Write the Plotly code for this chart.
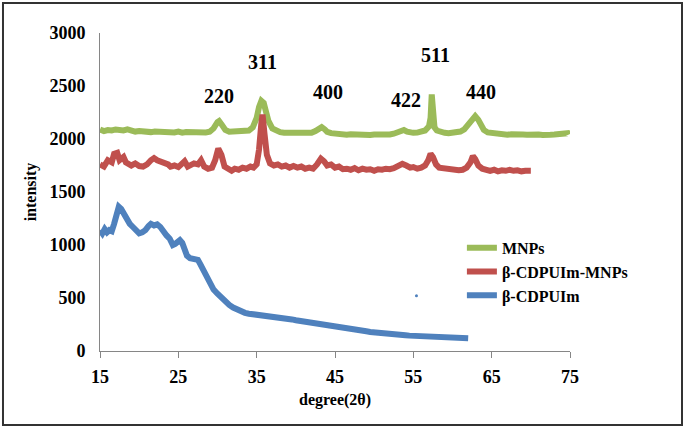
import plotly.graph_objects as go

# ---- data ----
mnp_x = [15, 15.5, 16, 16.5, 17, 17.5, 18, 18.5, 19, 19.5, 20, 20.5, 21, 21.5, 22, 22.5, 23, 23.5, 24, 24.5,
         25, 25.5, 26, 26.5, 27, 27.5, 28, 28.5, 29, 29.5, 30, 30.2, 30.5, 31, 31.5, 32, 32.5, 33, 33.5, 34,
         34.5, 35, 35.3, 35.6, 35.9, 36.2, 36.5, 37, 37.5, 38, 38.5, 39, 39.5, 40, 40.5, 41, 41.5, 42, 42.5, 43,
         43.3, 43.7, 44, 44.5, 45, 45.5, 46, 46.5, 47, 47.5, 48, 48.5, 49, 49.5, 50, 50.5, 51, 51.5, 52, 52.5,
         53, 53.5, 53.8, 54.2, 54.7, 55, 55.5, 56, 56.5, 57, 57.2, 57.35, 57.5, 57.7, 58, 58.5, 59, 59.5, 60, 60.5,
         61, 61.5, 62, 62.5, 62.9, 63.3, 63.7, 64, 64.5, 65, 65.5, 66, 66.5, 67, 67.5, 68, 68.5, 69, 69.5, 70,
         70.5, 71, 71.5, 72, 72.5, 73, 73.5, 74, 74.4, 74.7, 74.8]
mnp_y = [2090, 2075, 2085, 2080, 2090, 2085, 2080, 2090, 2078, 2070, 2075, 2068, 2072, 2065, 2070, 2068, 2062, 2070, 2065, 2062,
         2070, 2060, 2065, 2062, 2058, 2065, 2060, 2062, 2068, 2100, 2160, 2170, 2140, 2085, 2068, 2070, 2065, 2072, 2068, 2080,
         2110, 2200, 2300, 2360, 2340, 2260, 2170, 2100, 2075, 2065, 2060, 2058, 2055, 2060, 2052, 2055, 2050, 2058, 2075, 2105,
         2112, 2090, 2068, 2055, 2050, 2045, 2048, 2040, 2045, 2042, 2040, 2045, 2040, 2038, 2042, 2040, 2045, 2040, 2042, 2050,
         2062, 2080, 2085, 2070, 2055, 2058, 2060, 2068, 2080, 2120, 2200, 2420, 2200, 2110, 2080, 2065, 2058, 2055, 2058, 2060,
         2070, 2090, 2130, 2190, 2215, 2180, 2120, 2085, 2062, 2055, 2048, 2045, 2042, 2040, 2045, 2040, 2038, 2042, 2040, 2045,
         2040, 2042, 2038, 2045, 2040, 2042, 2048, 2045, 2060, 2055, 2040]

cd_mnp_x = [15, 15.5, 16, 16.5, 16.8, 17.2, 17.5, 18, 18.3, 18.7, 19, 19.5, 20, 20.5, 21, 21.5, 21.9, 22.3, 22.8, 23.2,
            23.7, 24, 24.5, 25, 25.5, 25.8, 26.2, 26.6, 27, 27.5, 27.9, 28.3, 28.8, 29.3, 29.7, 30.1, 30.5, 30.9, 31.3, 31.8,
            32.2, 32.7, 33.2, 33.7, 34.2, 34.6, 35, 35.3, 35.6, 35.75, 36, 36.3, 36.7, 37.2, 37.7, 38.2, 38.7, 39.2, 39.7, 40.2,
            40.7, 41.2, 41.7, 42.2, 42.7, 43.2, 43.6, 44, 44.5, 45, 45.5, 46, 46.5, 47, 47.5, 48, 48.5, 49, 49.5, 50,
            50.5, 51, 51.5, 52, 52.5, 53, 53.6, 54.1, 54.6, 55, 55.5, 56, 56.5, 56.9, 57.2, 57.5, 57.9, 58.3, 58.8, 59.3,
            59.8, 60.3, 60.8, 61.3, 61.8, 62.3, 62.6, 62.9, 63.3, 63.8, 64.3, 64.8, 65.3, 65.8, 66.3, 66.8, 67.3, 67.8, 68.3, 68.8,
            69.3, 69.7, 70]
cd_mnp_y = [1760, 1740, 1800, 1780, 1860, 1870, 1800, 1830, 1780, 1760, 1750, 1770, 1745, 1740, 1760, 1800, 1820, 1800, 1790, 1770,
            1760, 1740, 1750, 1735, 1760, 1790, 1740, 1750, 1770, 1760, 1800, 1740, 1720, 1730, 1800, 1910, 1850, 1740, 1720, 1700,
            1720, 1710, 1730, 1720, 1740, 1730, 1760, 1900, 2150, 2230, 2050, 1850, 1770, 1750, 1760, 1740, 1750, 1730, 1745, 1730,
            1740, 1720, 1730, 1720, 1760, 1815, 1790, 1750, 1760, 1730, 1740, 1715, 1720, 1710, 1725, 1705, 1720, 1710, 1715, 1700,
            1715, 1710, 1720, 1715, 1725, 1740, 1765, 1750, 1730, 1735, 1720, 1730, 1750, 1800, 1860, 1830, 1760, 1730, 1725, 1710,
            1715, 1700, 1705, 1710, 1730, 1780, 1840, 1810, 1750, 1720, 1710, 1700, 1710, 1695, 1705, 1700, 1710, 1700, 1705, 1695,
            1700, 1705, 1700]

cd_x = [15, 15.3, 15.6, 15.9, 16.2, 16.5, 16.8, 17.1, 17.4, 17.7, 18, 18.4, 18.8, 19.2, 19.6, 20, 20.4, 20.8, 21.2, 21.5,
        21.9, 22.3, 22.7, 23.1, 23.5, 23.9, 24.3, 24.6, 24.9, 25.2, 25.5, 25.8, 26.1, 26.5, 27, 27.5, 27.8, 28.2, 28.6, 29,
        29.5, 30, 30.5, 31, 31.5, 32, 32.5, 33, 33.5, 34, 34.5, 35, 35.5, 36, 36.5, 37, 37.5, 38, 38.5, 39,
        39.5, 40, 40.5, 41, 41.5, 42, 42.5, 43, 43.5, 44, 44.5, 45, 45.5, 46, 46.5, 47, 47.5, 48, 48.5, 49,
        49.5, 50, 50.5, 51, 51.5, 52, 52.5, 53, 53.5, 54, 54.5, 55, 55.5, 56, 56.5, 57, 57.5, 58, 58.5, 59,
        59.5, 60, 60.5, 61, 61.5, 62]
cd_y = [1140, 1110, 1150, 1120, 1140, 1130, 1200, 1300, 1360, 1340, 1300, 1250, 1200, 1170, 1130, 1110, 1120, 1140, 1180, 1200,
        1185, 1195, 1170, 1120, 1090, 1060, 1000, 1010, 1030, 1045, 1020, 960, 900, 875, 870, 860, 820, 760, 700, 640,
        580, 540, 500, 465, 435, 410, 390, 375, 360, 352, 348, 340, 332, 325, 320, 315, 318, 310, 305, 300,
        298, 290, 285, 280, 275, 265, 255, 250, 245, 240, 235, 230, 226, 222, 215, 210, 205, 200, 192, 186,
        180, 175, 170, 166, 162, 160, 158, 155, 152, 148, 145, 143, 140, 137, 135, 132, 130, 128, 126, 125,
        123, 122, 121, 120, 119, 120]

stray_x = [55.4]
stray_y = [522]

peak_labels = ["220", "311", "400", "422", "511", "440"]
peak_label_x = [30.2, 35.8, 44.1, 54.1, 57.8, 63.7]
peak_label_y = [2405, 2728, 2440, 2372, 2795, 2445]

x_ticks = [15, 25, 35, 45, 55, 65, 75]
y_ticks = [0, 500, 1000, 1500, 2000, 2500, 3000]

GREEN = "#9BBB59"
RED = "#C0504D"
BLUE = "#4F81BD"
FONT = "Liberation Serif"

fig = go.Figure()
fig.add_trace(go.Scatter(x=mnp_x, y=mnp_y, mode="lines", name="MNPs",
                         line=dict(color=GREEN, width=6)))
fig.add_trace(go.Scatter(x=cd_mnp_x, y=cd_mnp_y, mode="lines", name="β-CDPUIm-MNPs",
                         line=dict(color=RED, width=6)))
fig.add_trace(go.Scatter(x=cd_x, y=cd_y, mode="lines", name="β-CDPUIm",
                         line=dict(color=BLUE, width=6)))
fig.add_trace(go.Scatter(x=stray_x, y=stray_y, mode="markers", showlegend=False,
                         marker=dict(color=BLUE, size=3)))

for t, x, y in zip(peak_labels, peak_label_x, peak_label_y):
    fig.add_annotation(x=x, y=y, text=t, showarrow=False,
                       font=dict(family=FONT, size=20, color="black", weight="bold"))

# outer frame
fig.add_shape(type="rect", xref="paper", yref="paper",
              x0=-0.2064, x1=1.2383, y0=-0.2327, y1=1.0943,
              line=dict(color="#333333", width=2), fillcolor="rgba(0,0,0,0)")

fig.update_layout(
    width=685, height=428,
    margin=dict(l=100, r=115, t=33, b=77),
    paper_bgcolor="white", plot_bgcolor="white",
    font=dict(family=FONT, size=16, color="black", weight="bold"),
    showlegend=True,
    legend=dict(x=0.77, y=0.378, xanchor="left", yanchor="top",
                bgcolor="rgba(0,0,0,0)", font=dict(family=FONT, size=16, weight="bold"),
                tracegroupgap=0),
)
fig.update_xaxes(range=[15, 75], tickvals=x_ticks, ticktext=[str(v) for v in x_ticks],
                 showgrid=False, zeroline=False, showline=True, linecolor="#868686", linewidth=1,
                 ticks="outside", ticklen=6, tickcolor="#868686", ticklabelstandoff=3,
                 tickfont=dict(family=FONT, size=18, weight="bold"),
                 title=dict(text="degree(2θ)", font=dict(family=FONT, size=16, weight="bold"), standoff=8))
fig.update_yaxes(range=[0, 3000], tickvals=y_ticks, ticktext=[str(v) for v in y_ticks],
                 showgrid=False, zeroline=False, showline=True, linecolor="#868686", linewidth=1,
                 ticks="", ticklabelstandoff=10, tickfont=dict(family=FONT, size=18, weight="bold"),
                 title=dict(text="intensity", font=dict(family=FONT, size=16, weight="bold"), standoff=8))

fig.write_html("out.html", config={"displayModeBar": False},
               post_script="document.body.style.margin='0';")
